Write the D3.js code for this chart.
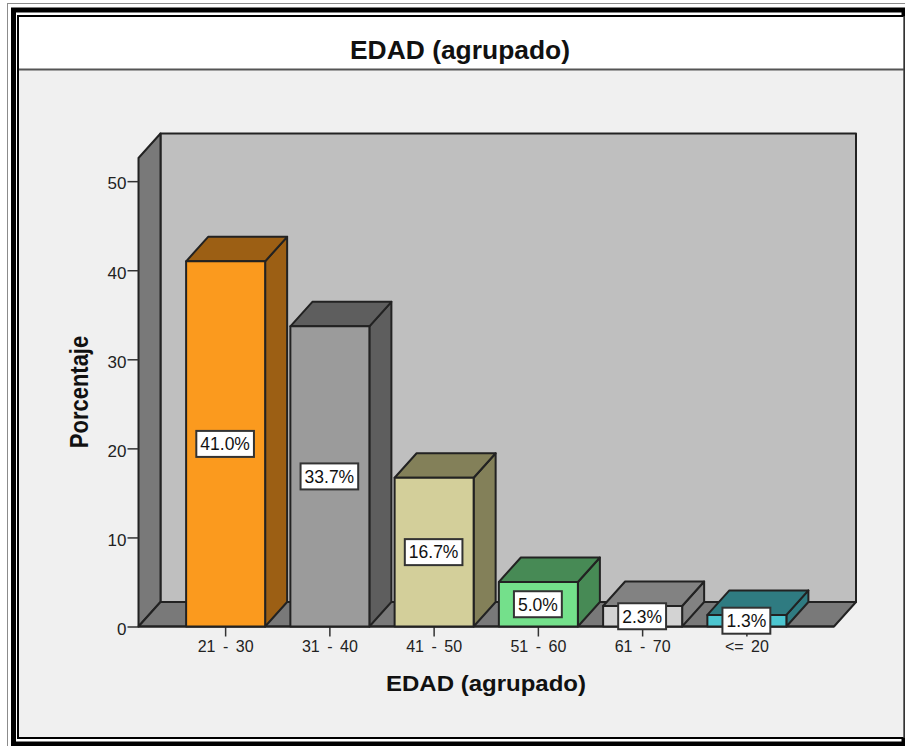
<!DOCTYPE html>
<html>
<head>
<meta charset="utf-8">
<script src="https://cdn.jsdelivr.net/npm/d3@7"></script>
<style>
html, body { margin: 0; padding: 0; background: #fff; }
svg { display: block; font-family: "Liberation Sans", Arial, sans-serif; }
</style>
</head>
<body>
<svg id="chart" width="905" height="746"></svg>
<script>
// Age-group distribution, drawn as a pseudo-3D bar chart
const chartTitle = "EDAD (agrupado)";
const xTitle = "EDAD (agrupado)";
const yTitle = "Porcentaje";
const categories = ["21 - 30", "31 - 40", "41 - 50", "51 - 60", "61 - 70", "<= 20"];
const percentages = [41.0, 33.7, 16.7, 5.0, 2.3, 1.3];
const percentLabels = ["41.0%", "33.7%", "16.7%", "5.0%", "2.3%", "1.3%"];
const frontColors = ["#fb9a1e", "#9b9b9b", "#d3cf9a", "#74e08b", "#d3d3d3", "#4cc6d0"];
const sideColors = ["#9c5f14", "#5e5e5e", "#838059", "#478a55", "#828282", "#2f7b81"];
const yTicks = [0, 10, 20, 30, 40, 50];

const svg = d3.select("#chart");

// Nested window frame
const frames = [
  { x: 7.5, y: 3.5, w: 905, h: 745, c: "#8c8c8c", sw: 1 },
  { x: 13.5, y: 10, w: 890.5, h: 734, c: "#000", sw: 5 },
  { x: 18, y: 16, w: 886, h: 722, c: "#000", sw: 2 }
];
svg.append("rect").attr("width", 905).attr("height", 746).attr("fill", "#fff");
svg.selectAll("rect.frame").data(frames).join("rect").attr("class", "frame")
  .attr("x", d => d.x).attr("y", d => d.y).attr("width", d => d.w).attr("height", d => d.h)
  .attr("fill", "none").attr("stroke", d => d.c).attr("stroke-width", d => d.sw);
svg.append("rect").attr("x", 19).attr("y", 17).attr("width", 885).attr("height", 720).attr("fill", "#fff");
svg.append("rect").attr("x", 19).attr("y", 70).attr("width", 885).attr("height", 667).attr("fill", "#f0f0f0");
svg.append("line").attr("x1", 19).attr("x2", 904).attr("y1", 69.5).attr("y2", 69.5)
  .attr("stroke", "#555").attr("stroke-width", 2);
svg.append("line").attr("x1", 904).attr("x2", 904).attr("y1", 16).attr("y2", 738)
  .attr("stroke", "#444").attr("stroke-width", 1.5);

svg.append("text").attr("x", 460).attr("y", 59).attr("text-anchor", "middle")
  .attr("font-size", 25).attr("font-weight", "bold").attr("fill", "#111")
  .attr("textLength", 220).attr("lengthAdjust", "spacingAndGlyphs").text(chartTitle);

// Scales
const y = d3.scaleLinear().domain([0, 52.6]).range([626.5, 158]);
const x = d3.scaleBand().domain(categories).range([173.5, 799]).paddingInner(0.242).paddingOuter(0.121);
const depthX = 22, depthY = 24.5;
const floorLeft = 138.5, floorRight = 834;
const wallTop = y.range()[1];
const base = y(0);
const poly = pts => pts.map(p => p.join(",")).join(" ");
const edge = "#222";

// Back wall, left wall and floor
const room = svg.append("g").attr("stroke", edge).attr("stroke-width", 2).attr("stroke-linejoin", "round");
room.append("polygon").attr("fill", "#bfbfbf").attr("points", poly([
  [floorLeft + depthX, wallTop - depthY], [floorRight + depthX, wallTop - depthY],
  [floorRight + depthX, base - depthY], [floorLeft + depthX, base - depthY]]));
room.append("polygon").attr("fill", "#797979").attr("points", poly([
  [floorLeft, wallTop], [floorLeft + depthX, wallTop - depthY],
  [floorLeft + depthX, base - depthY], [floorLeft, base]]));
room.append("polygon").attr("fill", "#797979").attr("points", poly([
  [floorLeft, base], [floorLeft + depthX, base - depthY],
  [floorRight + depthX, base - depthY], [floorRight, base]]));

// Axes
const yAxis = d3.axisLeft(y).tickValues(yTicks).tickSize(11).tickPadding(1);
const yG = svg.append("g").attr("transform", `translate(${floorLeft},0)`).call(yAxis);
yG.select(".domain").remove();
yG.selectAll("line").attr("stroke", "#333").attr("stroke-width", 1.5);
yG.selectAll("text").attr("font-size", 17).attr("fill", "#222").attr("font-family", "inherit").attr("dy", "0.46em");

const xAxis = d3.axisBottom(x).tickSize(10).tickPadding(4.3);
const xG = svg.append("g").attr("transform", `translate(0,${base})`).call(xAxis);
xG.select(".domain").remove();
xG.selectAll("line").attr("stroke", "#333").attr("stroke-width", 1.5);
xG.selectAll("text").attr("font-size", 16).attr("fill", "#222").attr("font-family", "inherit")
  .attr("word-spacing", 3);

svg.append("line").attr("x1", floorLeft).attr("x2", floorRight).attr("y1", base).attr("y2", base)
  .attr("stroke", edge).attr("stroke-width", 2);

// Bars: front, top and side faces
const rows = categories.map((c, i) => ({
  c, v: percentages[i], label: percentLabels[i], front: frontColors[i], side: sideColors[i]
}));
const bar = svg.append("g").selectAll("g").data(rows).join("g")
  .attr("stroke", edge).attr("stroke-width", 2).attr("stroke-linejoin", "round");
bar.append("polygon").attr("fill", d => d.side).attr("points", d => {
  const r = x(d.c) + x.bandwidth(), t = y(d.v);
  return poly([[r, t], [r + depthX, t - depthY], [r + depthX, base - depthY], [r, base]]);
});
bar.append("polygon").attr("fill", d => d.side).attr("points", d => {
  const l = x(d.c), r = l + x.bandwidth(), t = y(d.v);
  return poly([[l, t], [l + depthX, t - depthY], [r + depthX, t - depthY], [r, t]]);
});
bar.append("rect").attr("fill", d => d.front)
  .attr("x", d => x(d.c)).attr("y", d => y(d.v))
  .attr("width", x.bandwidth()).attr("height", d => base - y(d.v));

// Value labels, centred on each bar's front face
const tag = svg.append("g").selectAll("g").data(rows).join("g")
  .attr("transform", d => `translate(${x(d.c) + x.bandwidth() / 2 - 0.5},${(y(d.v) + base) / 2})`);
const tagText = tag.append("text").attr("text-anchor", "middle").attr("dy", "0.36em")
  .attr("font-size", 17.5).attr("fill", "#111").text(d => d.label);
tagText.each(function () {
  const b = this.getBBox();
  d3.select(this.parentNode).insert("rect", "text")
    .attr("x", b.x - 4).attr("y", -13).attr("width", b.width + 8).attr("height", 26)
    .attr("fill", "#fff").attr("stroke", "#333").attr("stroke-width", 2);
});

// Axis titles
svg.append("text").attr("x", 486).attr("y", 691).attr("text-anchor", "middle")
  .attr("font-size", 22).attr("font-weight", "bold").attr("fill", "#111")
  .attr("textLength", 200).attr("lengthAdjust", "spacingAndGlyphs").text(xTitle);
svg.append("text").attr("transform", "translate(88,392) rotate(-90) scale(1,1.15)").attr("text-anchor", "middle")
  .attr("font-size", 22).attr("font-weight", "bold").attr("fill", "#111").text(yTitle);
</script>
</body>
</html>
